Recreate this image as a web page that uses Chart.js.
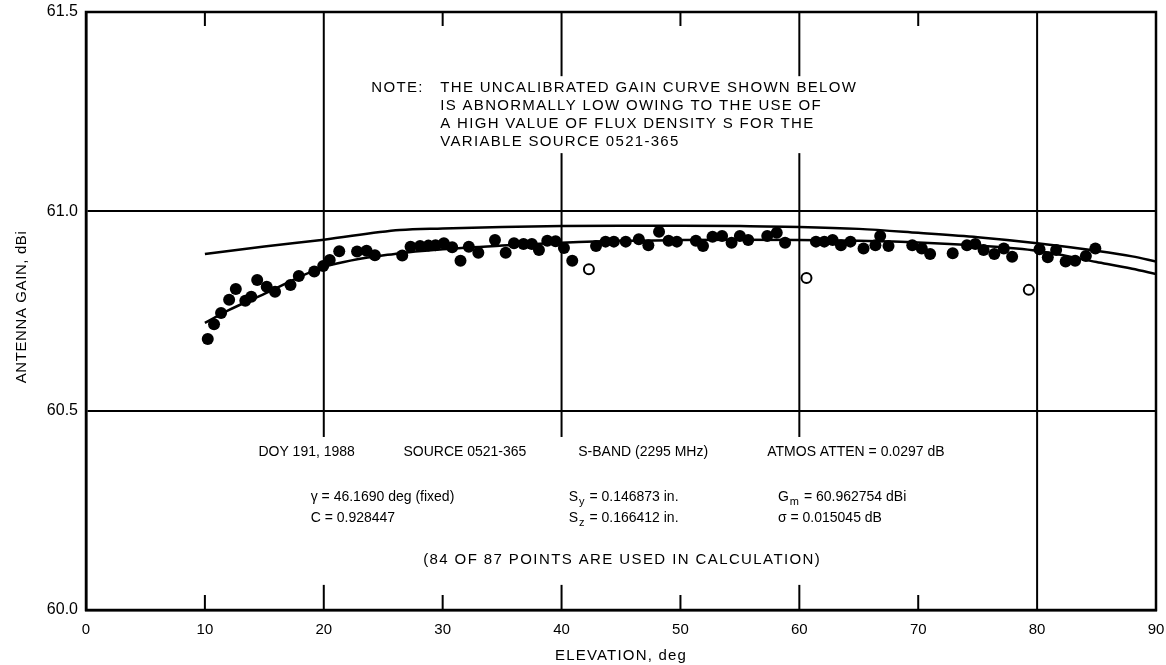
<!DOCTYPE html>
<html>
<head>
<meta charset="utf-8">
<title>Antenna gain vs elevation</title>
<script src="https://cdn.jsdelivr.net/npm/chart.js@4.4.1/dist/chart.umd.min.js"></script>
<style>
  html, body { margin: 0; padding: 0; background: #fff; }
  #wrap { width: 1166px; height: 665px; }
</style>
</head>
<body>
<div id="wrap"><canvas id="gainChart"></canvas></div>
<script>
// measured points used in the fit (elevation deg, gain dBi)
const usedElev = [10.24, 10.77, 11.36, 12.04, 12.6, 13.4, 13.9, 14.4, 15.2, 15.9,
  17.2, 17.9, 19.2, 19.95, 20.5, 21.3, 22.8, 23.6, 24.3, 26.6,
  27.3, 28.1, 28.8, 29.4, 30.1, 30.8, 31.5, 32.2, 33.0, 34.4,
  35.3, 36.0, 36.8, 37.5, 38.1, 38.8, 39.5, 40.2, 40.9, 42.9,
  43.7, 44.4, 45.4, 46.5, 47.3, 48.2, 49.0, 49.7, 51.3, 51.9,
  52.7, 53.5, 54.3, 55.0, 55.7, 57.3, 58.1, 58.8, 61.4, 62.1,
  62.8, 63.5, 64.3, 65.4, 66.4, 66.8, 67.5, 69.5, 70.3, 71.0,
  72.9, 74.1, 74.8, 75.5, 76.4, 77.2, 77.9, 80.2, 80.9, 81.6,
  82.4, 83.2, 84.1, 84.9];
const usedGain = [60.680, 60.717, 60.745, 60.778, 60.805, 60.776, 60.786, 60.828, 60.811, 60.798,
  60.815, 60.838, 60.849, 60.863, 60.878, 60.900, 60.899, 60.901, 60.890, 60.889,
  60.911, 60.913, 60.914, 60.915, 60.920, 60.910, 60.876, 60.911, 60.896, 60.928,
  60.896, 60.920, 60.918, 60.918, 60.903, 60.926, 60.925, 60.908, 60.876, 60.913,
  60.924, 60.924, 60.924, 60.930, 60.915, 60.949, 60.926, 60.924, 60.926, 60.913,
  60.936, 60.938, 60.921, 60.938, 60.928, 60.938, 60.946, 60.921, 60.924, 60.924,
  60.928, 60.915, 60.924, 60.907, 60.915, 60.938, 60.913, 60.915, 60.907, 60.893,
  60.895, 60.915, 60.918, 60.903, 60.893, 60.907, 60.886, 60.905, 60.885, 60.903,
  60.874, 60.876, 60.888, 60.907];

// points left out of the calculation
const droppedElev = [42.3, 60.6, 79.3];
const droppedGain = [60.855, 60.833, 60.803];

// fitted gain curve
const fitElev = [10, 12, 15, 20, 26.4, 30, 35, 40, 45, 50, 55, 60, 65, 70, 75, 80, 85, 88, 90];
const fitGain = [60.720, 60.752, 60.793, 60.860, 60.895, 60.905, 60.914, 60.921, 60.926, 60.928,
  60.929, 60.928, 60.926, 60.922, 60.914, 60.901, 60.873, 60.856, 60.843];

// upper curve
const upperElev = [10, 15, 20, 26.4, 30, 35, 40, 45, 50, 55, 60, 65, 70, 75, 80, 85, 88, 90];
const upperGain = [60.893, 60.912, 60.929, 60.953, 60.957, 60.961, 60.963, 60.964, 60.964,
  60.963, 60.961, 60.956, 60.946, 60.935, 60.920, 60.901, 60.887, 60.874];

const elevTicks = [0, 10, 20, 30, 40, 50, 60, 70, 80, 90];
const gainTicks = [60.0, 60.5, 61.0, 61.5];

const noteLines = [
  'THE UNCALIBRATED GAIN CURVE SHOWN BELOW',
  'IS ABNORMALLY LOW OWING TO THE USE OF',
  'A HIGH VALUE OF FLUX DENSITY S FOR THE',
  'VARIABLE SOURCE 0521-365'
];

const pts = (xs, ys) => xs.map((v, i) => ({ x: v, y: ys[i] }));
const FONT = '"Liberation Sans", Arial, Helvetica, sans-serif';

// draws "S" + subscript + rest, starting at x
function subText(ctx, base, sub, rest, x, y, size) {
  ctx.font = size + 'px ' + FONT;
  ctx.fillText(base, x, y);
  let w = ctx.measureText(base).width;
  ctx.font = (size - 3) + 'px ' + FONT;
  ctx.fillText(sub, x + w + 1, y + 5);
  w += ctx.measureText(sub).width + 2;
  ctx.font = size + 'px ' + FONT;
  ctx.fillText(rest, x + w, y);
}

const frameAndNotes = {
  id: 'frameAndNotes',
  beforeDatasetsDraw(chart) {
    const { ctx, chartArea: a, scales: { x, y } } = chart;
    const X = v => x.getPixelForValue(v);
    const Y = v => y.getPixelForValue(v);
    ctx.save();
    ctx.strokeStyle = '#000';
    ctx.lineWidth = 2;

    // full lines every 20 deg, short marks top and bottom in between
    elevTicks.forEach(v => {
      if (v === 0 || v === 90) return;
      const px = X(v);
      ctx.beginPath();
      if (v % 20 === 0) {
        ctx.moveTo(px, a.top); ctx.lineTo(px, a.bottom);
      } else {
        ctx.moveTo(px, a.top); ctx.lineTo(px, a.top + 14);
        ctx.moveTo(px, a.bottom); ctx.lineTo(px, a.bottom - 15);
      }
      ctx.stroke();
    });

    // blank out the lines behind the two text blocks
    ctx.fillStyle = '#fff';
    ctx.fillRect(X(23.2), Y(61.339), X(64.5) - X(23.2), Y(61.146) - Y(61.339));
    ctx.fillRect(X(13.8), Y(60.434), X(70.6) - X(13.8), Y(60.063) - Y(60.434));

    // outer frame
    ctx.lineWidth = 2.5;
    ctx.strokeRect(a.left, a.top, a.right - a.left, a.bottom - a.top);

    ctx.fillStyle = '#000';
    ctx.textBaseline = 'middle';
    ctx.textAlign = 'left';

    // note block
    ctx.font = '15px ' + FONT;
    ctx.letterSpacing = '1.3px';
    ctx.fillText('NOTE:', X(24.0), Y(61.31));
    noteLines.forEach((t, i) => ctx.fillText(t, X(29.8), Y(61.31 - i * 0.045)));

    // run parameters
    ctx.letterSpacing = '0px';
    ctx.font = '14px ' + FONT;
    const r1 = Y(60.396);
    ctx.fillText('DOY 191, 1988', X(14.5), r1);
    ctx.fillText('SOURCE 0521-365', X(26.7), r1);
    ctx.fillText('S-BAND (2295 MHz)', X(41.4), r1);
    ctx.fillText('ATMOS ATTEN = 0.0297 dB', X(57.3), r1);

    const r2 = Y(60.283), r3 = Y(60.231);
    ctx.fillText('\u03b3 = 46.1690 deg (fixed)', X(18.9), r2);
    ctx.fillText('C = 0.928447', X(18.9), r3);
    subText(ctx, 'S', 'y', ' = 0.146873 in.', X(40.6), r2, 14);
    subText(ctx, 'S', 'z', ' = 0.166412 in.', X(40.6), r3, 14);
    subText(ctx, 'G', 'm', ' = 60.962754 dBi', X(58.2), r2, 14);
    ctx.font = '14px ' + FONT;
    ctx.fillText('\u03c3 = 0.015045 dB', X(58.2), r3);

    ctx.textAlign = 'center';
    ctx.font = '15px ' + FONT;
    ctx.letterSpacing = '1.4px';
    ctx.fillText('(84 OF 87 POINTS ARE USED IN CALCULATION)', X(45.1), Y(60.125));
    ctx.restore();
  },
  afterDraw(chart) {
    // axis titles, letter-spaced
    const { ctx, chartArea: a } = chart;
    ctx.save();
    ctx.fillStyle = '#000';
    ctx.textAlign = 'center';
    ctx.textBaseline = 'middle';
    ctx.font = '15px ' + FONT;
    ctx.letterSpacing = '1.2px';
    ctx.fillText('ELEVATION, deg', (a.left + a.right) / 2, 656);
    ctx.translate(22, (a.top + a.bottom) / 2 - 4);
    ctx.rotate(-Math.PI / 2);
    ctx.letterSpacing = '0.6px';
    ctx.fillText('ANTENNA GAIN, dBi', 0, 0);
    ctx.restore();
  }
};

new Chart(document.getElementById('gainChart'), {
  type: 'scatter',
  data: {
    datasets: [
      {
        type: 'line',
        data: pts(upperElev, upperGain),
        borderColor: '#000',
        borderWidth: 2.5,
        pointRadius: 0,
        cubicInterpolationMode: 'monotone',
        fill: false
      },
      {
        type: 'line',
        data: pts(fitElev, fitGain),
        borderColor: '#000',
        borderWidth: 2.5,
        pointRadius: 0,
        cubicInterpolationMode: 'monotone',
        fill: false
      },
      {
        data: pts(usedElev, usedGain),
        pointRadius: 6,
        pointBackgroundColor: '#000',
        pointBorderColor: '#000',
        pointBorderWidth: 0
      },
      {
        data: pts(droppedElev, droppedGain),
        pointRadius: 5,
        pointBackgroundColor: '#fff',
        pointBorderColor: '#000',
        pointBorderWidth: 2
      }
    ]
  },
  options: {
    responsive: true,
    maintainAspectRatio: false,
    animation: false,
    events: [],
    layout: { padding: { top: 12, right: 10, left: 0, bottom: 0 } },
    plugins: { legend: { display: false }, tooltip: { enabled: false } },
    scales: {
      x: {
        type: 'linear',
        min: 0,
        max: 90,
        afterFit: s => { s.height = 55; s.paddingLeft = 0; s.paddingRight = 0; },
        afterBuildTicks: s => { s.ticks = elevTicks.map(v => ({ value: v })); },
        grid: { display: false },
        border: { display: true, color: '#000', width: 2.5 },
        ticks: { color: '#000', padding: 3, maxRotation: 0, font: { family: FONT, size: 15 } }
      },
      y: {
        min: 60,
        max: 61.5,
        afterFit: s => { s.width = 86; s.paddingTop = 0; s.paddingBottom = 0; },
        afterBuildTicks: s => { s.ticks = gainTicks.map(v => ({ value: v })); },
        grid: { color: '#000', lineWidth: 2, drawTicks: false },
        border: { display: true, color: '#000', width: 2.5 },
        ticks: {
          color: '#000',
          padding: 8,
          font: { family: FONT, size: 16 },
          callback: v => Number(v).toFixed(1)
        }
      }
    }
  },
  plugins: [frameAndNotes]
});
</script>
</body>
</html>
